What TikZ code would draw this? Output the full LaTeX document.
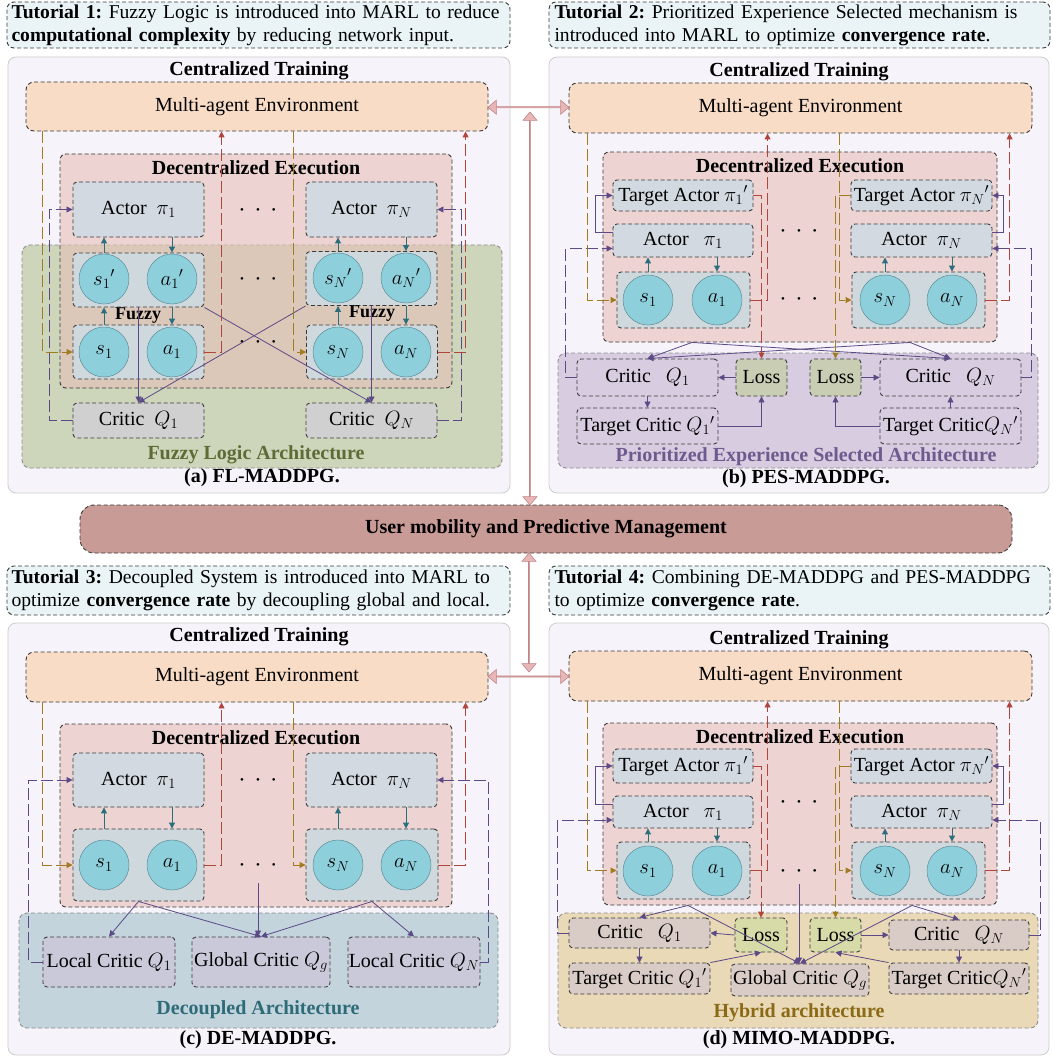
\documentclass[tikz,border=0pt]{standalone}
\usepackage{amsmath,amssymb}
\usepackage{fontspec}
\setmainfont{Liberation Serif}
\usetikzlibrary{arrows.meta,positioning,shapes,calc}
\frenchspacing
\hyphenpenalty=10000

\definecolor{boxdraw}{HTML}{3A3A3A}
\definecolor{archdraw}{HTML}{8C8C8C}
\definecolor{tutfill}{HTML}{EAF4F7}
\definecolor{panfill}{HTML}{F6F4FA}
\definecolor{pandraw}{HTML}{CDCDCD}
\definecolor{envfill}{HTML}{F8DCC6}
\definecolor{decfill}{HTML}{E7C0B9}
\definecolor{actfill}{HTML}{D3D9E0}
\definecolor{safill}{HTML}{CFD8DC}
\definecolor{cirfill}{HTML}{8ECFDC}
\definecolor{cirdraw}{HTML}{5E8E98}
\definecolor{crgrey}{HTML}{D0D0D0}
\definecolor{fuzfill}{HTML}{CDD6BB}
\definecolor{fuztext}{HTML}{5E6B35}
\definecolor{pesfill}{HTML}{D8CCE0}
\definecolor{pestext}{HTML}{6E5A8E}
\definecolor{lossfill}{HTML}{C9CDB3}
\definecolor{decofill}{HTML}{C3D4DD}
\definecolor{decotext}{HTML}{2E6B78}
\definecolor{lcfill}{HTML}{C9C9DA}
\definecolor{hybfill}{HTML}{E9D9B7}
\definecolor{hybtext}{HTML}{8A6A14}
\definecolor{hcfill}{HTML}{D9CCC6}
\definecolor{hlossfill}{HTML}{D6DBA8}
\definecolor{umfill}{HTML}{C99B96}
\definecolor{bigfill}{HTML}{E8B6B6}
\definecolor{bigdraw}{HTML}{BF8585}
\definecolor{tealc}{HTML}{2C6F7C}
\definecolor{purc}{HTML}{5B4A86}
\definecolor{goldc}{HTML}{A07C1E}
\definecolor{redc}{HTML}{B0453C}

\begin{document}
\begin{tikzpicture}[x=1pt,y=-1pt,>={Triangle[length=6pt,width=6pt]},font=\fontsize{20}{24}\selectfont]
    \tikzstyle{b}=[draw=boxdraw,line width=0.9pt,dash pattern=on 4pt off 2.5pt,rounded corners=4pt,inner sep=0pt]
    \tikzstyle{tut}=[b,fill=tutfill,rounded corners=7pt,align=left,font=\fontsize{19.6}{23}\selectfont]
    \tikzstyle{panel}=[draw=pandraw,line width=0.8pt,fill=panfill,rounded corners=8pt,inner sep=0pt]
    \tikzstyle{env}=[b,fill=envfill,rounded corners=8pt]
    \tikzstyle{dec}=[b,fill=decfill,fill opacity=0.6,rounded corners=6pt]
    \tikzstyle{arch}=[b,draw=archdraw,rounded corners=8pt]
    \tikzstyle{act}=[b,fill=actfill]
    \tikzstyle{sa}=[b,fill=safill]
    \tikzstyle{cir}=[circle,draw=cirdraw,line width=0.5pt,fill=cirfill,minimum size=50pt,inner sep=0pt,font=\fontsize{21}{24}\selectfont]
    \tikzstyle{ttl}=[font=\fontsize{20}{24}\selectfont\bfseries]
    \tikzstyle{fzl}=[font=\fontsize{18}{20}\selectfont\bfseries]
    \tikzstyle{dotrow}=[font=\fontsize{11}{12}\selectfont]
    \tikzstyle{tarr}=[draw=tealc,line width=1pt,->]
    \tikzstyle{parr}=[draw=purc,line width=0.8pt,->]
    \tikzstyle{pdash}=[parr,dash pattern=on 12pt off 4pt]
    \tikzstyle{gdash}=[draw=goldc,line width=0.9pt,dash pattern=on 12pt off 4pt,->]
    \tikzstyle{rdash}=[draw=redc,line width=0.9pt,dash pattern=on 12pt off 4pt,->]
    \tikzstyle{bigarr}=[double arrow,draw=bigdraw,fill=bigfill,line width=0.6pt,inner sep=0pt,minimum width=14pt,double arrow head extend=3.5pt,double arrow tip angle=80]
    \useasboundingbox (0,0) rectangle (1052,1059);

    % (a) FL-MADDPG
    \node[panel,minimum width=502pt,minimum height=436pt] (panA) at (259,275) {};
    \node[tut,minimum width=503pt,minimum height=46pt,text width=494pt] (tutA) at (258.5,25)
        {\textbf{Tutorial 1:} Fuzzy Logic is introduced into MARL to reduce\\\textbf{computational complexity} by reducing network input.};
    \node[ttl] (ctA) at (259,71) {Centralized Training};
    \node[env,minimum width=462pt,minimum height=49pt] (envA) at (257,106.5) {Multi-agent Environment};
    \node[arch,fill=fuzfill,minimum width=480pt,minimum height=223pt] (fuzA) at (262,356.5) {};
    \node[dec,minimum width=392pt,minimum height=234pt] (decA) at (256,271) {};
    \node[ttl] (deA) at ([yshift=-14pt]decA.north) {Decentralized Execution};
    \node[act,minimum width=131pt,minimum height=55pt] (acA1) at (138.5,209.5) {Actor\ \ $\pi_1$};
    \node[act,minimum width=131pt,minimum height=55pt] (acAN) at (371.5,209.5) {Actor\ \ $\pi_N$};
    \node[dotrow] (dtA1) at (258,211) {\textbullet\hspace{12pt}\textbullet\hspace{12pt}\textbullet};
    \node[sa,minimum width=131pt,minimum height=54pt] (fsA1) at (138.5,280) {};
    \node[cir] (sA1p) at (104,279) {$s_1{}'$};
    \node[cir] (aA1p) at (172,279) {$a_1{}'$};
    \node[sa,minimum width=131pt,minimum height=54pt] (fsAN) at (371.5,278.5) {};
    \node[cir] (sANp) at (338,278) {$s_N{}'$};
    \node[cir] (aANp) at (406,278) {$a_N{}'$};
    \node[dotrow] (dtA2) at (258,280) {\textbullet\hspace{12pt}\textbullet\hspace{12pt}\textbullet};
    \node[fzl] (fzA1) at (138,316) {Fuzzy};
    \node[fzl] (fzAN) at (372,314) {Fuzzy};
    \node[sa,minimum width=131pt,minimum height=54pt] (saA1) at (138.5,352) {};
    \node[cir] (sA1) at (104,352) {$s_1$};
    \node[cir] (aA1) at (172,352) {$a_1$};
    \node[sa,minimum width=131pt,minimum height=54pt] (saAN) at (372,352) {};
    \node[cir] (sAN) at (338,352) {$s_N$};
    \node[cir] (aAN) at (406,352) {$a_N$};
    \node[dotrow] (dtA3) at (258,343) {\textbullet\hspace{12pt}\textbullet\hspace{12pt}\textbullet};
    \node[b,fill=crgrey,minimum width=131pt,minimum height=35pt] (crA1) at (138.5,420.5) {Critic\ \ $Q_1$};
    \node[b,fill=crgrey,minimum width=131pt,minimum height=35pt] (crAN) at (371.5,420.5) {Critic\ \ $Q_N$};
    \node[ttl,text=fuztext] (fuzL) at (256,455) {Fuzzy Logic Architecture};
    \node[ttl] (capA) at (262,478) {(a) FL-MADDPG.};
    \draw[tarr] (sA1p |- fsA1.north) -- (sA1p |- acA1.south);
    \draw[tarr] (aA1p |- acA1.south) -- (aA1p |- fsA1.north);
    \draw[tarr] (sANp |- fsAN.north) -- (sANp |- acAN.south);
    \draw[tarr] (aANp |- acAN.south) -- (aANp |- fsAN.north);
    \draw[tarr] (sA1 |- saA1.north) -- (sA1 |- fsA1.south);
    \draw[tarr] (aA1p |- fsA1.south) -- (aA1 |- saA1.north);
    \draw[tarr] (sAN |- saAN.north) -- (sAN |- fsAN.south);
    \draw[tarr] (aANp |- fsAN.south) -- (aAN |- saAN.north);
    \draw[parr] (fsA1.south) -- (crA1.north);
    \draw[parr] (fsA1.south east) -- (crAN.north);
    \draw[parr] (fsAN.south west) -- (crA1.north);
    \draw[parr] (fsAN.south) -- (crAN.north);
    \draw[pdash] (crA1.west) -- ++(-23,0) |- (acA1.west);
    \draw[pdash] (crAN.east) -- ++(24,0) |- (acAN.east);
    \draw[gdash] ([xshift=17pt]envA.south west) |- (saA1.west);
    \draw[gdash] ([xshift=268pt]envA.south west) |- (saAN.west);
    \draw[rdash] (saA1.east) -| ([xshift=196pt]envA.south west);
    \draw[rdash] (saAN.east) -| ([xshift=440pt]envA.south west);

    % (b) PES-MADDPG
    \node[panel,minimum width=500pt,minimum height=436pt] (panB) at (799,275) {};
    \node[tut,minimum width=501pt,minimum height=46pt,text width=490pt] (tutB) at (799.5,25)
        {\textbf{Tutorial 2:} Prioritized Experience Selected mechanism is\\introduced into MARL to optimize \textbf{convergence rate}.};
    \node[ttl] (ctB) at (799,72) {Centralized Training};
    \node[env,minimum width=463pt,minimum height=50pt] (envB) at (800.5,108) {Multi-agent Environment};
    \node[dec,minimum width=394pt,minimum height=190pt] (decB) at (800,247) {};
    \node[ttl] (deB) at ([yshift=-14pt]decB.north) {Decentralized Execution};
    \node[act,minimum width=140pt,minimum height=31pt] (taB1) at (683,195.5) {Target Actor\ $\pi_1{}'$};
    \node[act,minimum width=140pt,minimum height=33pt] (acB1) at (683,240.5) {Actor\ \ \ $\pi_1$};
    \node[sa,minimum width=133pt,minimum height=56pt] (saB1) at (683.5,300) {};
    \node[cir] (sB1) at (648,300) {$s_1$};
    \node[cir] (aB1) at (717,300) {$a_1$};
    \node[act,minimum width=141pt,minimum height=31pt] (taBN) at (921.5,195.5) {Target Actor\ $\pi_N{}'$};
    \node[act,minimum width=141pt,minimum height=33pt] (acBN) at (921.5,240.5) {Actor\ \ $\pi_N$};
    \node[sa,minimum width=133pt,minimum height=56pt] (saBN) at (918.5,300) {};
    \node[cir] (sBN) at (885,300) {$s_N$};
    \node[cir] (aBN) at (952,300) {$a_N$};
    \node[dotrow] (dtB1) at (799,232) {\textbullet\hspace{12pt}\textbullet\hspace{12pt}\textbullet};
    \node[dotrow] (dtB2) at (799,300) {\textbullet\hspace{12pt}\textbullet\hspace{12pt}\textbullet};
    \node[arch,fill=pesfill,minimum width=480pt,minimum height=115pt] (pesB) at (798,410.5) {};
    \node[b,fill=pesfill,minimum width=141pt,minimum height=37pt] (crB1) at (647.5,377.5) {Critic\ \ \ $Q_1$};
    \node[b,fill=lossfill,minimum width=51pt,minimum height=37pt] (lsB1) at (761.5,377.5) {Loss};
    \node[b,fill=lossfill,minimum width=51pt,minimum height=37pt] (lsBN) at (835.5,377.5) {Loss};
    \node[b,fill=pesfill,minimum width=141pt,minimum height=37pt] (crBN) at (950.5,377.5) {Critic\ \ \ $Q_N$};
    \node[b,fill=pesfill,minimum width=141pt,minimum height=36pt] (tcB1) at (647.5,426) {Target Critic $Q_1{}'$};
    \node[b,fill=pesfill,minimum width=141pt,minimum height=36pt] (tcBN) at (950.5,426) {Target Critic$Q_N{}'$};
    \node[ttl,text=pestext] (pesL) at (806,457) {Prioritized Experience Selected Architecture};
    \node[ttl] (capB) at (806,479) {(b) PES-MADDPG.};
    \coordinate (oB1) at ([xshift=-108pt]decB.south);
    \coordinate (oBN) at ([xshift=110pt]decB.south);
    \draw[tarr] (sB1 |- saB1.north) -- (sB1 |- acB1.south);
    \draw[tarr] (aB1 |- acB1.south) -- (aB1 |- saB1.north);
    \draw[tarr] (sBN |- saBN.north) -- (sBN |- acBN.south);
    \draw[tarr] (aBN |- acBN.south) -- (aBN |- saBN.north);
    \draw[parr] ([yshift=8pt]acB1.west) -- ++(-17,0) |- (taB1.west);
    \draw[parr] ([yshift=8pt]acBN.east) -- ++(11,0) |- (taBN.east);
    \draw[pdash] (crB1.west) -- ++(-11,0) |- ([yshift=-8pt]acB1.west);
    \draw[pdash] (crBN.east) -- ++(10,0) |- ([yshift=-8pt]acBN.east);
    \draw[parr] (oB1) -- (crB1.north);
    \draw[parr] (oB1) -- (crBN.north);
    \draw[parr] (oBN) -- (crB1.north);
    \draw[parr] (oBN) -- (crBN.north);
    \draw[parr] (lsB1.west) -- (crB1.east);
    \draw[parr] (lsBN.east) -- (crBN.west);
    \draw[parr] (crB1.south) -- (tcB1.north);
    \draw[parr] (tcBN.north) -- (crBN.south);
    \draw[parr] (tcB1.east) -| (lsB1.south);
    \draw[parr] (tcBN.west) -| (lsBN.south);
    \draw[rdash] (taB1.east) -| (lsB1.north);
    \draw[rdash] (saB1.east) -| ([xshift=199pt]envB.south west);
    \draw[rdash] (saBN.east) -| ([xshift=441pt]envB.south west);
    \draw[gdash] ([xshift=19pt]envB.south west) |- (saB1.west);
    \draw[gdash] ([xshift=271pt]envB.south west) |- (saBN.west);
    \draw[gdash] (taBN.west) -| (lsBN.north);

    % (c) DE-MADDPG
    \node[panel,minimum width=502pt,minimum height=432pt] (panC) at (259,839) {};
    \node[tut,minimum width=503pt,minimum height=49pt,text width=494pt] (tutC) at (258.5,590.5)
        {\textbf{Tutorial 3:} Decoupled System is introduced into MARL to\\optimize \textbf{convergence rate} by decoupling global and local.};
    \node[ttl] (ctC) at (259,637) {Centralized Training};
    \node[env,minimum width=462pt,minimum height=50pt] (envC) at (257,677) {Multi-agent Environment};
    \node[dec,minimum width=392pt,minimum height=183pt] (decC) at (256,815.5) {};
    \node[ttl] (deC) at ([yshift=-14pt]decC.north) {Decentralized Execution};
    \node[act,minimum width=131pt,minimum height=54pt] (acC1) at (138.5,780) {Actor\ \ $\pi_1$};
    \node[act,minimum width=131pt,minimum height=54pt] (acCN) at (371.5,780) {Actor\ \ $\pi_N$};
    \node[dotrow] (dtC1) at (258,781) {\textbullet\hspace{12pt}\textbullet\hspace{12pt}\textbullet};
    \node[sa,minimum width=131pt,minimum height=72pt] (saC1) at (138.5,865) {};
    \node[cir] (sC1) at (104,865) {$s_1$};
    \node[cir] (aC1) at (172,865) {$a_1$};
    \node[sa,minimum width=132pt,minimum height=72pt] (saCN) at (372,865) {};
    \node[cir] (sCN) at (338,865) {$s_N$};
    \node[cir] (aCN) at (406,865) {$a_N$};
    \node[dotrow] (dtC2) at (258,866) {\textbullet\hspace{12pt}\textbullet\hspace{12pt}\textbullet};
    \node[arch,fill=decofill,minimum width=479pt,minimum height=115pt] (dcpC) at (258.5,970.5) {};
    \node[b,fill=lcfill,minimum width=132pt,minimum height=50pt] (lcC1) at (109,962) {Local Critic $Q_1$};
    \node[b,fill=lcfill,minimum width=138pt,minimum height=50pt] (gcC) at (261,962) {Global Critic $Q_g$};
    \node[b,fill=lcfill,minimum width=132pt,minimum height=50pt] (lcCN) at (414,962) {Local Critic $Q_N$};
    \node[ttl,text=decotext] (dcpL) at (258,1010) {Decoupled Architecture};
    \node[ttl] (capC) at (258,1040) {(c) DE-MADDPG.};
    \draw[tarr] (sC1 |- saC1.north) -- (sC1 |- acC1.south);
    \draw[tarr] (aC1 |- acC1.south) -- (aC1 |- saC1.north);
    \draw[tarr] (sCN |- saCN.north) -- (sCN |- acCN.south);
    \draw[tarr] (aCN |- acCN.south) -- (aCN |- saCN.north);
    \draw[parr] (saC1.south) -- (lcC1.north);
    \draw[parr] (saC1.south) -- (gcC.north);
    \draw[parr] (saCN.south) -- (gcC.north);
    \draw[parr] (saCN.south) -- (lcCN.north);
    \draw[parr] ([yshift=-17pt]dtC2.center) -- (dtC2.center |- gcC.north);
    \draw[pdash] (lcC1.west) -- ++(-14,0) |- (acC1.west);
    \draw[pdash] (lcCN.east) -- ++(8,0) |- (acCN.east);
    \draw[gdash] ([xshift=17pt]envC.south west) |- (saC1.west);
    \draw[gdash] ([xshift=268pt]envC.south west) |- (saCN.west);
    \draw[rdash] (saC1.east) -| ([xshift=196pt]envC.south west);
    \draw[rdash] (saCN.east) -| ([xshift=440pt]envC.south west);

    % (d) MIMO-MADDPG
    \node[panel,minimum width=500pt,minimum height=432pt] (panD) at (799,839) {};
    \node[tut,minimum width=501pt,minimum height=49pt,text width=490pt] (tutD) at (799.5,590.5)
        {\textbf{Tutorial 4:} Combining DE-MADDPG and PES-MADDPG\\to optimize \textbf{convergence rate}.};
    \node[ttl] (ctD) at (799,640) {Centralized Training};
    \node[env,minimum width=463pt,minimum height=50pt] (envD) at (800.5,676) {Multi-agent Environment};
    \node[dec,minimum width=394pt,minimum height=182pt] (decD) at (800,814) {};
    \node[ttl] (deD) at ([yshift=-14pt]decD.north) {Decentralized Execution};
    \node[act,minimum width=140pt,minimum height=34pt] (taD1) at (683,766) {Target Actor\ $\pi_1{}'$};
    \node[act,minimum width=140pt,minimum height=32pt] (acD1) at (683,812) {Actor\ \ \ $\pi_1$};
    \node[sa,minimum width=133pt,minimum height=57pt] (saD1) at (683.5,870.5) {};
    \node[cir] (sD1) at (648,871) {$s_1$};
    \node[cir] (aD1) at (717,871) {$a_1$};
    \node[act,minimum width=141pt,minimum height=34pt] (taDN) at (921.5,766) {Target Actor\ $\pi_N{}'$};
    \node[act,minimum width=141pt,minimum height=32pt] (acDN) at (921.5,812) {Actor\ \ $\pi_N$};
    \node[sa,minimum width=133pt,minimum height=57pt] (saDN) at (918.5,870.5) {};
    \node[cir] (sDN) at (885,871) {$s_N$};
    \node[cir] (aDN) at (952,871) {$a_N$};
    \node[dotrow] (dtD1) at (799,803) {\textbullet\hspace{12pt}\textbullet\hspace{12pt}\textbullet};
    \node[dotrow] (dtD2) at (799,872) {\textbullet\hspace{12pt}\textbullet\hspace{12pt}\textbullet};
    \node[arch,fill=hybfill,minimum width=480pt,minimum height=115pt] (hybD) at (798,970.5) {};
    \node[b,fill=hcfill,minimum width=141pt,minimum height=30pt] (crD1) at (639.5,933) {Critic\ \ \ $Q_1$};
    \node[b,fill=hlossfill,minimum width=52pt,minimum height=34pt] (lsD1) at (761,935) {Loss};
    \node[b,fill=hlossfill,minimum width=51pt,minimum height=34pt] (lsDN) at (835.5,935) {Loss};
    \node[b,fill=hcfill,minimum width=140pt,minimum height=30pt] (crDN) at (959,935) {Critic\ \ \ $Q_N$};
    \node[b,fill=hcfill,minimum width=141pt,minimum height=31pt] (tcD1) at (639.5,978.5) {Target Critic $Q_1{}'$};
    \node[b,fill=hcfill,minimum width=138pt,minimum height=32pt] (gcD) at (800,980) {Global Critic $Q_g$};
    \node[b,fill=hcfill,minimum width=140pt,minimum height=31pt] (tcDN) at (959,978.5) {Target Critic$Q_N{}'$};
    \node[ttl,text=hybtext] (hybL) at (799,1013) {Hybrid architecture};
    \node[ttl] (capD) at (799,1040) {(d) MIMO-MADDPG.};
    \coordinate (oD1) at ([xshift=-112pt]decD.south);
    \coordinate (oDN) at ([xshift=112pt]decD.south);
    \draw[tarr] (sD1 |- saD1.north) -- (sD1 |- acD1.south);
    \draw[tarr] (aD1 |- acD1.south) -- (aD1 |- saD1.north);
    \draw[tarr] (sDN |- saDN.north) -- (sDN |- acDN.south);
    \draw[tarr] (aDN |- acDN.south) -- (aDN |- saDN.north);
    \draw[parr] ([yshift=8pt]acD1.west) -- ++(-17,0) |- (taD1.west);
    \draw[parr] ([yshift=8pt]acDN.east) -- ++(11,0) |- (taDN.east);
    \draw[pdash] (crD1.west) -- ++(-11,0) |- ([yshift=-8pt]acD1.west);
    \draw[pdash] (crDN.east) -- ++(11,0) |- ([yshift=-8pt]acDN.east);
    \draw[parr] (oD1) -- (crD1.north);
    \draw[parr] (oD1) -- (gcD.north);
    \draw[parr] (oDN) -- (crDN.north);
    \draw[parr] (oDN) -- (gcD.north);
    \draw[parr] ([yshift=-12pt]dtD2.center) -- (dtD2.center |- gcD.north);
    \draw[parr] (lsD1.west) -- (crD1.east);
    \draw[parr] (lsDN.east) -- (crDN.west);
    \draw[parr] (crD1.south) -- (tcD1.north);
    \draw[parr] (crDN.south) -- (tcDN.north);
    \draw[parr] (tcD1.north east) -- (lsD1.south);
    \draw[parr] (tcDN.north west) -- (lsDN.south);
    \draw[rdash] (taD1.east) -| (lsD1.north);
    \draw[rdash] (saD1.east) -| ([xshift=199pt]envD.south west);
    \draw[rdash] (saDN.east) -| ([xshift=441pt]envD.south west);
    \draw[gdash] ([xshift=19pt]envD.south west) |- (saD1.west);
    \draw[gdash] ([xshift=271pt]envD.south west) |- (saDN.west);
    \draw[gdash] (taDN.west) -| (lsDN.north);

    % centre: shared management and links
    \node[b,fill=umfill,rounded corners=14pt,minimum width=932pt,minimum height=48pt,ttl] (ump) at (546,529) {User mobility and Predictive Management};
    \node[bigarr,minimum height=81pt] (lkAB) at ($(envA.east)!0.5!(envB.west)$) {};
    \node[bigarr,minimum height=81pt] (lkCD) at ($(envC.east)!0.5!(envD.west)$) {};
    \node[bigarr,rotate=90,minimum height=393pt] (lkU) at (530,308.5) {};
    \node[bigarr,rotate=90,minimum height=119pt] (lkL) at (529,612.5) {};
\end{tikzpicture}
\end{document}
